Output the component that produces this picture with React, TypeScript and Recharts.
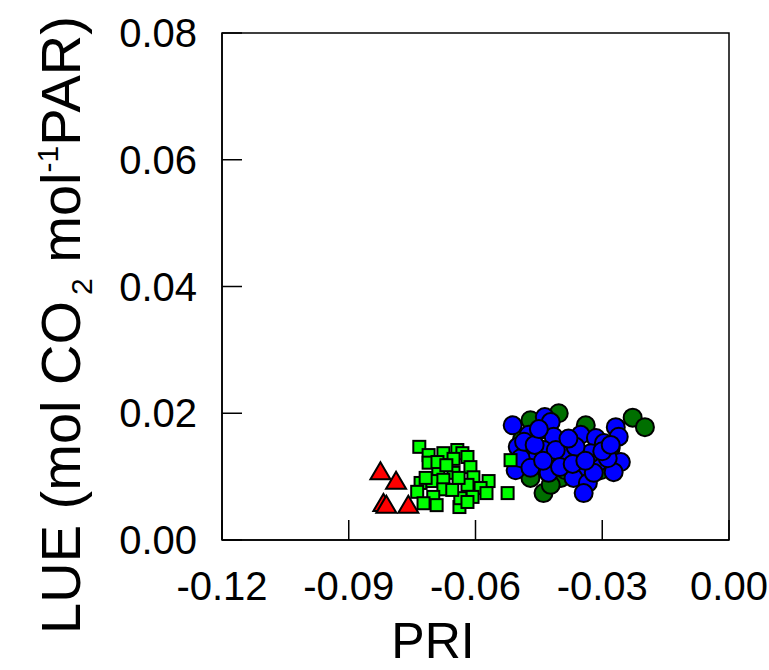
import { ScatterChart, Scatter, XAxis, YAxis, ReferenceArea, Label } from 'recharts';

// PRI (x) vs LUE (y), one list per group
const triangles = [
    { pri: -0.0825, lue: 0.0107 },
    { pri: -0.0788, lue: 0.0092 },
    { pri: -0.0818, lue: 0.0057 },
    { pri: -0.0811, lue: 0.0054 },
    { pri: -0.0759, lue: 0.0054 },
];

const squares = [
    { pri: -0.0733, lue: 0.0147 },
    { pri: -0.0711, lue: 0.0134 },
    { pri: -0.0676, lue: 0.0137 },
    { pri: -0.0643, lue: 0.0142 },
    { pri: -0.0631, lue: 0.0137 },
    { pri: -0.0711, lue: 0.0122 },
    { pri: -0.0652, lue: 0.0128 },
    { pri: -0.0619, lue: 0.0131 },
    { pri: -0.0688, lue: 0.0107 },
    { pri: -0.0652, lue: 0.0106 },
    { pri: -0.0612, lue: 0.0115 },
    { pri: -0.0605, lue: 0.0099 },
    { pri: -0.0569, lue: 0.0093 },
    { pri: -0.073, lue: 0.009 },
    { pri: -0.0702, lue: 0.0093 },
    { pri: -0.0676, lue: 0.0095 },
    { pri: -0.0619, lue: 0.0087 },
    { pri: -0.0588, lue: 0.0082 },
    { pri: -0.0676, lue: 0.008 },
    { pri: -0.0738, lue: 0.0076 },
    { pri: -0.07, lue: 0.0068 },
    { pri: -0.0723, lue: 0.0058 },
    { pri: -0.0638, lue: 0.0052 },
    { pri: -0.0607, lue: 0.0068 },
    { pri: -0.0574, lue: 0.0074 },
    { pri: -0.0524, lue: 0.0074 },
    { pri: -0.0517, lue: 0.0126 },
    { pri: -0.0636, lue: 0.0066 },
    { pri: -0.0619, lue: 0.006 },
    { pri: -0.0655, lue: 0.0079 },
    { pri: -0.069, lue: 0.0123 },
    { pri: -0.0669, lue: 0.0118 },
    { pri: -0.0718, lue: 0.0098 },
    { pri: -0.064, lue: 0.0098 },
    { pri: -0.0692, lue: 0.0055 },
];

const darkCircles = [
    { pri: -0.047, lue: 0.0189 },
    { pri: -0.0403, lue: 0.02 },
    { pri: -0.0228, lue: 0.0193 },
    { pri: -0.0199, lue: 0.0178 },
    { pri: -0.0439, lue: 0.0074 },
    { pri: -0.047, lue: 0.0098 },
    { pri: -0.0398, lue: 0.0098 },
    { pri: -0.0446, lue: 0.0174 },
    { pri: -0.0387, lue: 0.011 },
    { pri: -0.0304, lue: 0.011 },
    { pri: -0.028, lue: 0.0145 },
    { pri: -0.0339, lue: 0.0181 },
    { pri: -0.049, lue: 0.0158 },
    { pri: -0.0422, lue: 0.0087 },
];

const blueCircles = [
    { pri: -0.0512, lue: 0.0181 },
    { pri: -0.0436, lue: 0.0194 },
    { pri: -0.0422, lue: 0.0186 },
    { pri: -0.0474, lue: 0.0166 },
    { pri: -0.0415, lue: 0.0163 },
    { pri: -0.0379, lue: 0.0153 },
    { pri: -0.0351, lue: 0.0166 },
    { pri: -0.0356, lue: 0.0137 },
    { pri: -0.0315, lue: 0.0161 },
    { pri: -0.0296, lue: 0.0153 },
    { pri: -0.0268, lue: 0.0178 },
    { pri: -0.0261, lue: 0.0163 },
    { pri: -0.0296, lue: 0.0137 },
    { pri: -0.0256, lue: 0.0123 },
    { pri: -0.05, lue: 0.0147 },
    { pri: -0.0453, lue: 0.0134 },
    { pri: -0.0394, lue: 0.0126 },
    { pri: -0.0351, lue: 0.0115 },
    { pri: -0.0311, lue: 0.0122 },
    { pri: -0.0273, lue: 0.0107 },
    { pri: -0.0505, lue: 0.011 },
    { pri: -0.0427, lue: 0.0106 },
    { pri: -0.0368, lue: 0.0098 },
    { pri: -0.0334, lue: 0.009 },
    { pri: -0.0344, lue: 0.0074 },
    { pri: -0.0493, lue: 0.0129 },
    { pri: -0.0439, lue: 0.0142 },
    { pri: -0.0382, lue: 0.0134 },
    { pri: -0.0327, lue: 0.0137 },
    { pri: -0.0287, lue: 0.0129 },
    { pri: -0.0363, lue: 0.0147 },
    { pri: -0.047, lue: 0.0114 },
    { pri: -0.041, lue: 0.0142 },
    { pri: -0.032, lue: 0.0106 },
    { pri: -0.0485, lue: 0.0155 },
    { pri: -0.046, lue: 0.015 },
    { pri: -0.044, lue: 0.0125 },
    { pri: -0.04, lue: 0.0115 },
    { pri: -0.037, lue: 0.012 },
    { pri: -0.034, lue: 0.0125 },
    { pri: -0.03, lue: 0.014 },
    { pri: -0.028, lue: 0.015 },
    { pri: -0.045, lue: 0.0175 },
    { pri: -0.038, lue: 0.016 },
];

const xTicks = [-0.12, -0.09, -0.06, -0.03, 0];
const yTicks = [0, 0.02, 0.04, 0.06, 0.08];

const FONT = '"Liberation Sans", Arial, sans-serif';

// marker shapes, drawn at the point the scatter hands over
const circleShape = (fill: string) => (props: any) => (
    <circle cx={props.cx} cy={props.cy} r={9} fill={fill} stroke="#000" strokeWidth={2} />
);

const squareShape = (props: any) => (
    <rect
        x={props.cx - 6}
        y={props.cy - 6}
        width={12}
        height={12}
        fill="#00ff00"
        stroke="#000"
        strokeWidth={2}
    />
);

const triangleShape = (props: any) => {
    const { cx, cy } = props;
    const pts = `${cx},${cy - 10} ${cx + 10},${cy + 7} ${cx - 10},${cy + 7}`;
    return <polygon points={pts} fill="#ff0000" stroke="#000" strokeWidth={2} />;
};

const YTitle = () => (
    <text
        transform="translate(80, 325) rotate(-90)"
        textAnchor="middle"
        fontSize={56}
        fontFamily={FONT}
        fill="#000"
    >
        <tspan>LUE (mol CO</tspan>
        <tspan dx={6} dy={12} fontSize={30}>2</tspan>
        <tspan dy={-12}> mol</tspan>
        <tspan dy={-22} fontSize={30}>-1</tspan>
        <tspan dy={22}>PAR)</tspan>
    </text>
);

const XTitle = () => (
    <text x={433} y={658} textAnchor="middle" fontSize={50} fontFamily={FONT} fill="#000">
        PRI
    </text>
);

export default function App() {
    return (
        <div style={{ position: 'absolute', left: 0, top: 0 }}>
            <ScatterChart
                width={769}
                height={670}
                margin={{ top: 33, right: 40, bottom: 0, left: 0 }}
            >
                <XAxis
                    type="number"
                    dataKey="pri"
                    domain={[-0.12, 0]}
                    ticks={xTicks}
                    allowDataOverflow
                    height={130}
                    tickFormatter={(v: number) => v.toFixed(2)}
                    tick={{ fontSize: 40, fill: '#000', fontFamily: FONT }}
                    tickSize={-20}
                    tickMargin={52}
                    tickLine={{ stroke: '#000', strokeWidth: 1.5 }}
                    axisLine={{ stroke: '#000', strokeWidth: 1.5 }}
                >
                    <Label content={<XTitle />} />
                </XAxis>
                <YAxis
                    type="number"
                    dataKey="lue"
                    domain={[0, 0.08]}
                    ticks={yTicks}
                    allowDataOverflow
                    width={222}
                    tickFormatter={(v: number) => v.toFixed(2)}
                    tick={{ fontSize: 40, fill: '#000', fontFamily: FONT }}
                    tickSize={-20}
                    tickMargin={45}
                    tickLine={{ stroke: '#000', strokeWidth: 1.5 }}
                    axisLine={{ stroke: '#000', strokeWidth: 1.5 }}
                >
                    <Label content={<YTitle />} />
                </YAxis>
                <ReferenceArea
                    x1={-0.12}
                    x2={0}
                    y1={0}
                    y2={0.08}
                    fill="none"
                    stroke="#000"
                    strokeWidth={1.5}
                />
                <Scatter
                    data={darkCircles}
                    shape={circleShape('#006f00')}
                    isAnimationActive={false}
                />
                <Scatter
                    data={blueCircles}
                    shape={circleShape('#0000ff')}
                    isAnimationActive={false}
                />
                <Scatter data={squares} shape={squareShape} isAnimationActive={false} />
                <Scatter data={triangles} shape={triangleShape} isAnimationActive={false} />
            </ScatterChart>
        </div>
    );
}
